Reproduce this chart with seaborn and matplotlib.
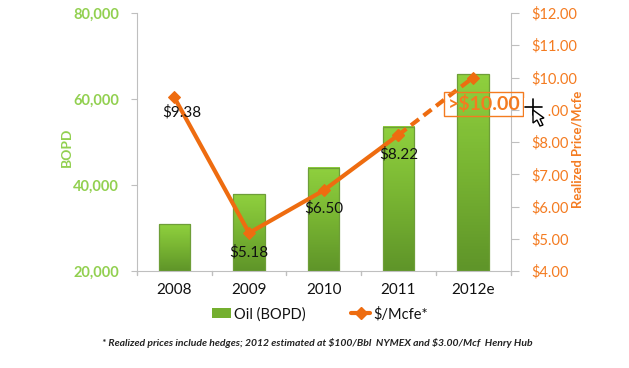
import numpy as np
import pandas as pd
import matplotlib
matplotlib.use("Agg")
import matplotlib.pyplot as plt
from matplotlib.colors import LinearSegmentedColormap
from matplotlib.lines import Line2D
from matplotlib.patches import Patch, Polygon, Rectangle
import seaborn as sns

years = ["2008", "2009", "2010", "2011", "2012e"]
oil_bopd = [30900, 37900, 44000, 53500, 65800]
price = [9.38, 5.18, 6.50, 8.22, 10.00]
price_labels = [r"\$9.38", r"\$5.18", r"\$6.50", r"\$8.22"]
left_ticks = [20000, 40000, 60000, 80000]
right_ticks = [4, 5, 6, 7, 8, 9, 10, 11, 12]

GREEN = "#92D050"
ORANGE = "#F47B20"
LINE = "#EE6C10"
GRID = "#BFBFBF"

sns.set_style("white")
plt.rcParams["font.family"] = ["Lato", "DejaVu Sans"]

W, H = 629, 368
fig = plt.figure(figsize=(W / 100, H / 100), dpi=100)
ax = fig.add_axes([137 / W, 1 - 271 / H, (510.5 - 137) / W, (271 - 13) / H])

df = pd.DataFrame({"year": years, "oil": oil_bopd})
sns.barplot(data=df, x="year", y="oil", ax=ax, width=0.42, color=GREEN, saturation=1)

# vertical gradient inside each bar, with a thin bevel edge on top of it
cmap = LinearSegmentedColormap.from_list("bar", ["#8FD03E", "#78B432", "#5F9529"])
grad = np.linspace(0, 1, 64).reshape(-1, 1)
for bar in ax.patches:
    x0, w, top = bar.get_x(), bar.get_width(), bar.get_height()
    ax.imshow(grad, cmap=cmap, aspect="auto", zorder=2,
              extent=(x0, x0 + w, 20000, top))
    ax.add_patch(Rectangle((x0, 20000), w, top - 20000, fill=False, ec="#6E9E38", lw=0.9, zorder=3))
ax.set_xlim(-0.5, 4.5)
ax.set_ylim(20000, 80000)

ax.set_xlabel("")
ax.set_ylabel("BOPD", color=GREEN, fontsize=10, fontweight="bold", labelpad=0, y=0.48)
ax.set_yticks(left_ticks)
ax.set_yticklabels([f"{v:,}" for v in left_ticks], color=GREEN, fontsize=10.5, fontweight="bold")
ax.set_xticks(range(5))
ax.set_xticklabels(years, fontsize=11, color="#111111")
ax.tick_params(axis="y", length=4, color=GRID, pad=9, left=True)
ax.tick_params(axis="x", length=0, pad=9)
for x in np.arange(-0.5, 5):
    ax.plot([x, x], [20000, 19000], color=GRID, lw=1, clip_on=False)
for s in ["top", "right"]:
    ax.spines[s].set_visible(False)
for s in ["left", "bottom"]:
    ax.spines[s].set_color(GRID)

ax2 = ax.twinx()
ax2.set_ylim(4, 12)
solid = pd.DataFrame({"x": range(4), "y": price[:4]})
dash = pd.DataFrame({"x": [3, 4], "y": price[3:]})
sns.lineplot(data=solid, x="x", y="y", ax=ax2, color=LINE, lw=3.0, marker="D",
             markersize=5.8, markeredgecolor=LINE, errorbar=None)
sns.lineplot(data=dash, x="x", y="y", ax=ax2, color=LINE, lw=3.0, errorbar=None,
             linestyle=(0, (2.4, 1.4)), marker="D", markersize=5.8, markeredgecolor=LINE)
ax2.set_xlim(-0.5, 4.5)
ax2.set_xlabel("")
ax2.set_ylabel("Realized Price/Mcfe", color=ORANGE, fontsize=9.4, fontweight="bold",
               labelpad=-4, y=0.47)
ax2.set_yticks(right_ticks)
ax2.set_yticklabels([rf"\${v}.00" for v in right_ticks], color=ORANGE, fontsize=10.5)
ax2.tick_params(axis="y", right=True, length=6, color=GRID, pad=9)
for s in ["top", "left", "bottom"]:
    ax2.spines[s].set_visible(False)
ax2.spines["right"].set_color(GRID)

# label offsets in pixels from the point
label_dx = [7, 0, 0, 0]
label_dy = [15, 19, 18, 19]
for i, lab in enumerate(price_labels):
    ax2.annotate(lab, (i, price[i]), xytext=(label_dx[i] * 0.72, -label_dy[i] * 0.72),
                 textcoords="offset points", ha="center", va="center", fontsize=11,
                 color="#111111", zorder=6)

ax2.text(4.145, 9.18, r">\$10.00", ha="center", va="center", color=ORANGE, fontsize=14,
         fontweight="bold", zorder=7,
         bbox=dict(boxstyle="square,pad=0.16", fc="none", ec=ORANGE, lw=1))

handles = [Patch(facecolor="#74AF2F", edgecolor="none"),
           Line2D([], [], color=LINE, lw=3, marker="D", markersize=5.8)]
fig.legend(handles, ["Oil (BOPD)", r"\$/Mcfe*"], loc="center", ncol=2, frameon=False,
           fontsize=10.5, bbox_to_anchor=(320 / W, 1 - 314 / H), columnspacing=3.1,
           handlelength=1.3, handletextpad=0.2, labelcolor="#111111")

fig.text(317 / W, 1 - 343 / H,
         r"* Realized prices include hedges; 2012 estimated at \$100/Bbl  NYMEX and \$3.00/Mcf  Henry Hub",
         ha="center", va="center", fontsize=7.45, fontweight="bold", fontstyle="italic",
         color="#222222")

# mouse cursor left in the screenshot
fig.add_artist(Rectangle((524 / W, 1 - 118 / H), 24 / W, 20 / H, fc="white", ec="none",
                         transform=fig.transFigure, zorder=8))
fig.add_artist(Line2D([525 / W, 542 / W], [1 - 107 / H] * 2, color="black", lw=1.2,
                      transform=fig.transFigure, zorder=9))
fig.add_artist(Line2D([533 / W] * 2, [1 - 99 / H, 1 - 115 / H], color="black", lw=1.2,
                      transform=fig.transFigure, zorder=9))
px = [(533, 110), (533, 123), (537, 120), (540, 126), (543, 125), (540, 119), (544, 118)]
fig.add_artist(Polygon([(x / W, 1 - y / H) for x, y in px], closed=True, fc="white",
                       ec="black", lw=1, transform=fig.transFigure, zorder=10))

fig.savefig("out.png", dpi=100)
